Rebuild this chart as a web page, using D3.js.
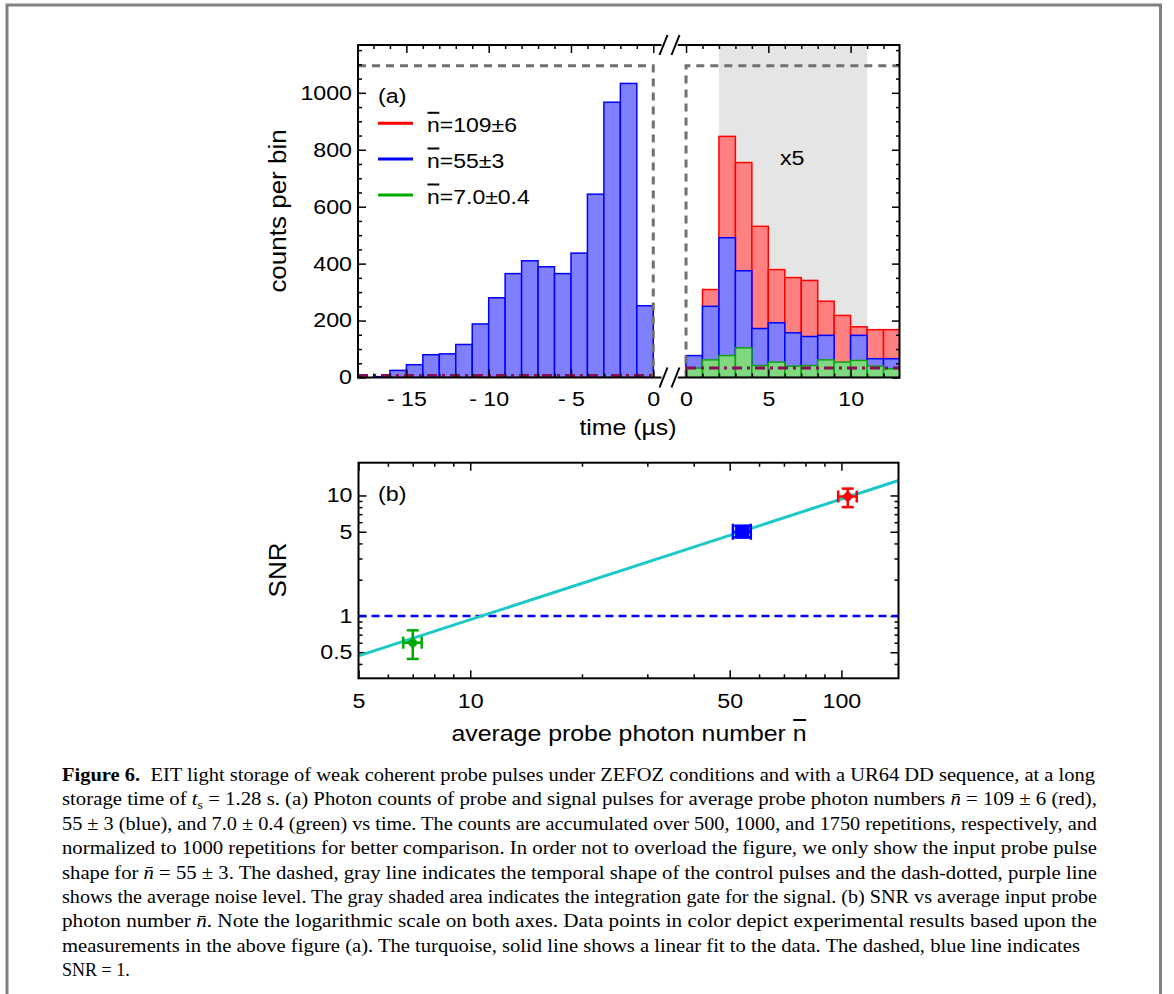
<html>
<head>
<meta charset="utf-8">
<title>Figure 6 - EIT light storage</title>
<script src="https://d3js.org/d3.v7.min.js"></script>
<style>
body { margin: 0; background: #fff; }
svg { display: block; }
.lab { font-family: 'Liberation Sans', Arial, sans-serif; font-size: 20px; fill: #000; }
.big { font-size: 22px; }
.rot { font-size: 23px; }
.tick text { font-family: 'Liberation Sans', Arial, sans-serif; font-size: 20px; fill: #000; }
.tick line { stroke: #000; stroke-width: 1.5; }
.cap { font-family: 'Liberation Serif', 'Times New Roman', serif; font-size: 18px; fill: #000; }
</style>
</head>
<body>
<svg width="1174" height="994"></svg>
<script>

// ---- panel (a) data: counts per 1 us bin, bins given by start time ----
var probeStart = [-17, -16, -15, -14, -13, -12, -11, -10, -9, -8, -7, -6, -5, -4, -3, -2, -1];
var probe55 = [3, 25, 45, 80, 83, 116, 188, 280, 365, 410, 389, 365, 437, 644, 967, 1033, 252];

var signalStart = [0, 1, 2, 3, 4, 5, 6, 7, 8, 9, 10, 11, 12];
var signal109 = [70, 309, 847, 755, 531, 379, 351, 341, 268, 218, 178, 168, 168];
var signal55 = [77, 250, 491, 375, 172, 192, 157, 144, 148, 48, 148, 66, 66];
var signal7 = [33, 62, 77, 104, 42, 54, 40, 42, 62, 54, 60, 40, 31];

var legendLabels = ["=109\u00b16", "=55\u00b13", "=7.0\u00b10.4"];
var legendColors = ["#ff0000", "#0000ff", "#00aa00"];

var controlLevel = 1095;
var noiseLeft = 7, noiseRight = 33;
var gate = [2, 11];

var leftTicks = [-15, -10, -5, 0];
var leftTickLabels = ["- 15", "- 10", "- 5", "0"];
var rightTicks = [0, 5, 10];
var countTicks = [0, 200, 400, 600, 800, 1000];

// ---- panel (b) data ----
var nbar = [104, 54, 7.0];
var nbarErr = [6, 3, 0.4];
var snr = [9.8, 5.0, 0.6];
var snrLo = [8.0, 4.5, 0.44];
var snrHi = [11.4, 5.6, 0.76];
var pointColors = ["#ff0000", "#0000ff", "#00aa00"];
var pointShapes = ["diamond", "square", "diamond"];
var fitN = [5, 142.5];
var fitSNR = [0.466, 13.3];
var snrTicks = [0.5, 1, 5, 10];
var nTicks = [5, 10, 50, 100];

var svg = d3.select("svg");

// the reference font is wider than Liberation Sans: stretch text horizontally
function stretch(sel, k) {
  sel.each(function () {
    var w = this.getComputedTextLength();
    if (w > 0) d3.select(this).attr("textLength", w * k).attr("lengthAdjust", "spacingAndGlyphs");
  });
}

// figure frame
svg.append("rect").attr("x", 7).attr("y", 5).attr("width", 1153.5).attr("height", 1010)
  .attr("fill", "none").attr("stroke", "#808080").attr("stroke-width", 3);

// ================= panel (a) =================
var yA = d3.scaleLinear().domain([0, 1168]).range([377.5, 45]);
var xL = d3.scaleLinear().domain([-17.94, 0.5]).range([358, 661.5]);
var xR = d3.scaleLinear().domain([-0.5, 13]).range([677.8, 900]);

var defs = svg.append("defs");
defs.append("clipPath").attr("id", "clipL").append("rect")
  .attr("x", xL.range()[0]).attr("y", yA(1168)).attr("width", xL.range()[1] - xL.range()[0]).attr("height", yA(0) - yA(1168));
defs.append("clipPath").attr("id", "clipR").append("rect")
  .attr("x", xR.range()[0]).attr("y", yA(1168)).attr("width", xR.range()[1] - xR.range()[0]).attr("height", yA(0) - yA(1168));

var gL = svg.append("g").attr("clip-path", "url(#clipL)");
var gR = svg.append("g").attr("clip-path", "url(#clipR)");

// gate shading
gR.append("rect").attr("x", xR(gate[0])).attr("y", yA(1168))
  .attr("width", xR(gate[1]) - xR(gate[0])).attr("height", yA(0) - yA(1168))
  .attr("fill", "#e5e5e5");

function bars(g, x, starts, vals, fill, stroke) {
  g.selectAll(null).data(vals).enter().append("rect")
    .attr("x", function (d, i) { return x(starts[i]); })
    .attr("y", function (d) { return yA(d); })
    .attr("width", function (d, i) { return x(starts[i] + 1) - x(starts[i]); })
    .attr("height", function (d) { return yA(0) - yA(d); })
    .attr("fill", fill).attr("stroke", stroke).attr("stroke-width", 1.5);
}

bars(gL, xL, probeStart, probe55, "#8080ff", "#0000ff");
bars(gR, xR, signalStart, signal109, "#ff8080", "#ff0000");
bars(gR, xR, signalStart, signal55, "#8080ff", "#0000ff");
bars(gR, xR, signalStart, signal7, "#80d880", "#10a010");

// noise level (dash-dotted purple)
gL.append("line").attr("x1", xL(-17.94)).attr("x2", xL(0)).attr("y1", yA(noiseLeft)).attr("y2", yA(noiseLeft))
  .attr("stroke", "#8b0a5a").attr("stroke-width", 3).attr("stroke-dasharray", "10,5,3,5");
gR.append("line").attr("x1", xR(0)).attr("x2", xR(13)).attr("y1", yA(noiseRight)).attr("y2", yA(noiseRight))
  .attr("stroke", "#8b0a5a").attr("stroke-width", 3).attr("stroke-dasharray", "10,5,3,5");

// control pulses (dashed gray)
var ctl = d3.line().x(function (d) { return d[0]; }).y(function (d) { return d[1]; });
gL.append("path").attr("d", ctl([[xL(-17.94), yA(controlLevel)], [xL(0), yA(controlLevel)], [xL(0), yA(0)]]))
  .attr("fill", "none").attr("stroke", "#707070").attr("stroke-width", 3).attr("stroke-dasharray", "8,6");
gR.append("path").attr("d", ctl([[xR(0), yA(0)], [xR(0), yA(controlLevel)], [xR(13), yA(controlLevel)]]))
  .attr("fill", "none").attr("stroke", "#707070").attr("stroke-width", 3).attr("stroke-dasharray", "8,6");

// axes for panel (a)
function clean(g) { g.select(".domain").remove(); }

svg.append("g").attr("transform", "translate(" + xL.range()[0] + ",0)")
  .call(d3.axisLeft(yA).tickValues(countTicks).tickSizeInner(-8).tickSizeOuter(0).tickPadding(6).tickFormat(d3.format("d")))
  .call(clean);
svg.append("g").attr("transform", "translate(" + xL.range()[0] + ",0)")
  .call(d3.axisLeft(yA).tickValues(d3.range(50, 1168, 50).filter(function (v) { return v % 200 != 0; })).tickSize(-4).tickFormat(""))
  .call(clean);
svg.append("g").attr("transform", "translate(" + xR.range()[1] + ",0)")
  .call(d3.axisRight(yA).tickValues(countTicks).tickSize(-8).tickFormat(""))
  .call(clean);
svg.append("g").attr("transform", "translate(" + xR.range()[1] + ",0)")
  .call(d3.axisRight(yA).tickValues(d3.range(50, 1168, 50).filter(function (v) { return v % 200 != 0; })).tickSize(-4).tickFormat(""))
  .call(clean);

function timeAxes(x, major, labels, minor) {
  svg.append("g").attr("transform", "translate(0," + yA(0) + ")")
    .call(d3.axisBottom(x).tickValues(major).tickSizeInner(-8).tickSizeOuter(0).tickPadding(14)
      .tickFormat(function (d, i) { return labels[i]; }))
    .call(clean);
  svg.append("g").attr("transform", "translate(0," + yA(0) + ")")
    .call(d3.axisBottom(x).tickValues(minor).tickSize(-4).tickFormat("")).call(clean);
  svg.append("g").attr("transform", "translate(0," + yA(1168) + ")")
    .call(d3.axisTop(x).tickValues(major).tickSize(-8).tickFormat("")).call(clean);
  svg.append("g").attr("transform", "translate(0," + yA(1168) + ")")
    .call(d3.axisTop(x).tickValues(minor).tickSize(-4).tickFormat("")).call(clean);
}
timeAxes(xL, leftTicks, leftTickLabels, d3.range(-17, 1, 1).filter(function (v) { return v % 5 != 0; }));
timeAxes(xR, rightTicks, rightTicks.map(String), d3.range(1, 13, 1).filter(function (v) { return v % 5 != 0; }));

// frame of panel (a) with axis break
var fr = svg.append("g").attr("stroke", "#000").attr("stroke-width", 2).attr("fill", "none");
fr.append("path").attr("d", ctl([[xL.range()[1], yA(1168)], [xL.range()[0], yA(1168)], [xL.range()[0], yA(0)], [xL.range()[1], yA(0)]]));
fr.append("path").attr("d", ctl([[xR.range()[0], yA(1168)], [xR.range()[1] - 0.5, yA(1168)], [xR.range()[1] - 0.5, yA(0)], [xR.range()[0], yA(0)]]));
[yA(1168), yA(0)].forEach(function (yy) {
  [663.5, 675.5].forEach(function (cx) {
    fr.append("line").attr("x1", cx - 4).attr("y1", yy + 10).attr("x2", cx + 4).attr("y2", yy - 10);
  });
});

// labels panel (a)
svg.append("text").attr("class", "lab small").attr("x", 378).attr("y", 103).text("(a)");
svg.append("text").attr("class", "lab small").attr("x", 780).attr("y", 165).text("x5");
svg.append("text").attr("class", "lab rot").attr("text-anchor", "middle")
  .attr("transform", "translate(286,211) rotate(-90)").text("counts per bin");
svg.append("text").attr("class", "lab big").attr("text-anchor", "middle")
  .attr("x", 628).attr("y", 435).text("time (\u00b5s)");

// overlined n: draws "n" + rest, bar over the n
function nbarText(x, y, rest) {
  var t = svg.append("text").attr("class", "lab").attr("x", x).attr("y", y);
  t.append("tspan").text("n");
  t.append("tspan").text(rest);
  stretch(t, 1.15);
  var ext = t.node().getExtentOfChar(0);
  svg.append("line").attr("x1", ext.x + 0.5).attr("x2", ext.x + ext.width - 0.5)
    .attr("y1", y - 19).attr("y2", y - 19).attr("stroke", "#000").attr("stroke-width", 2);
  return t;
}

var legY = [123.3, 159, 195];
legendLabels.forEach(function (lab, i) {
  svg.append("line").attr("x1", 378).attr("x2", 413).attr("y1", legY[i]).attr("y2", legY[i])
    .attr("stroke", legendColors[i]).attr("stroke-width", 3);
  nbarText(427, legY[i] + 8.5, lab);
});

// ================= panel (b) =================
var xB = d3.scaleLog().domain([5, 142.5]).range([358.5, 898.5]);
var yB = d3.scaleLog().domain([0.304, 18.7]).range([678.3, 462.7]);

svg.append("g").attr("transform", "translate(0," + yB.range()[0] + ")")
  .call(d3.axisBottom(xB).tickValues(nTicks).tickSizeInner(-8).tickSizeOuter(0).tickPadding(16).tickFormat(d3.format("d")))
  .call(clean);
var nMinor = [6, 7, 8, 9, 20, 30, 40, 60, 70, 80, 90];
svg.append("g").attr("transform", "translate(0," + yB.range()[0] + ")")
  .call(d3.axisBottom(xB).tickValues(nMinor).tickSize(-4).tickFormat("")).call(clean);
svg.append("g").attr("transform", "translate(0," + yB.range()[1] + ")")
  .call(d3.axisTop(xB).tickValues(nTicks).tickSize(-8).tickFormat("")).call(clean);
svg.append("g").attr("transform", "translate(0," + yB.range()[1] + ")")
  .call(d3.axisTop(xB).tickValues(nMinor).tickSize(-4).tickFormat("")).call(clean);

var sMinor = [0.4, 0.6, 0.7, 0.8, 0.9, 2, 3, 4, 6, 7, 8, 9];
svg.append("g").attr("transform", "translate(" + xB.range()[0] + ",0)")
  .call(d3.axisLeft(yB).tickValues(snrTicks).tickSizeInner(-8).tickSizeOuter(0).tickPadding(6).tickFormat(function (d) { return String(d); }))
  .call(clean);
svg.append("g").attr("transform", "translate(" + xB.range()[0] + ",0)")
  .call(d3.axisLeft(yB).tickValues(sMinor).tickSize(-4).tickFormat("")).call(clean);
svg.append("g").attr("transform", "translate(" + xB.range()[1] + ",0)")
  .call(d3.axisRight(yB).tickValues(snrTicks).tickSize(-8).tickFormat("")).call(clean);
svg.append("g").attr("transform", "translate(" + xB.range()[1] + ",0)")
  .call(d3.axisRight(yB).tickValues(sMinor).tickSize(-4).tickFormat("")).call(clean);

// SNR = 1 reference
svg.append("line").attr("x1", xB(5)).attr("x2", xB(142.5)).attr("y1", yB(1)).attr("y2", yB(1))
  .attr("stroke", "#0000ff").attr("stroke-width", 2.5).attr("stroke-dasharray", "8,5");

// linear fit
svg.append("path").attr("d", d3.line().x(function (d) { return xB(d); }).y(function (d, i) { return yB(fitSNR[i]); })(fitN))
  .attr("stroke", "#1cc8c8").attr("stroke-width", 3).attr("fill", "none");

// data points
nbar.forEach(function (n, i) {
  var g = svg.append("g").attr("stroke", pointColors[i]).attr("stroke-width", 2.5).attr("fill", pointColors[i]);
  var cx = xB(n), cy = yB(snr[i]);
  var half = pointShapes[i] == "square" ? 8 : 6;
  g.append("line").attr("x1", xB(n - nbarErr[i])).attr("x2", xB(n + nbarErr[i])).attr("y1", cy).attr("y2", cy);
  g.append("line").attr("x1", cx).attr("x2", cx).attr("y1", yB(snrLo[i])).attr("y2", yB(snrHi[i]));
  [n - nbarErr[i], n + nbarErr[i]].forEach(function (v) {
    g.append("line").attr("x1", xB(v)).attr("x2", xB(v)).attr("y1", cy - half).attr("y2", cy + half);
  });
  [snrLo[i], snrHi[i]].forEach(function (v) {
    g.append("line").attr("x1", cx - half).attr("x2", cx + half).attr("y1", yB(v)).attr("y2", yB(v));
  });
  if (pointShapes[i] == "square") {
    g.append("rect").attr("x", cx - 7).attr("y", cy - 7).attr("width", 14).attr("height", 14).attr("stroke", "none");
  } else {
    g.append("path").attr("d", "M" + cx + "," + (cy - 6) + "L" + (cx + 6) + "," + cy + "L" + cx + "," + (cy + 6) + "L" + (cx - 6) + "," + cy + "Z")
      .attr("stroke", "none");
  }
});

svg.append("rect").attr("x", xB.range()[0]).attr("y", yB.range()[1])
  .attr("width", xB.range()[1] - xB.range()[0]).attr("height", yB.range()[0] - yB.range()[1])
  .attr("fill", "none").attr("stroke", "#000").attr("stroke-width", 2);

svg.append("text").attr("class", "lab small").attr("x", 378).attr("y", 501).text("(b)");
svg.append("text").attr("class", "lab rot").attr("text-anchor", "middle")
  .attr("transform", "translate(286,570) rotate(-90)").text("SNR");
// x label with overlined n at the end
var xlab = svg.append("text").attr("class", "lab big").attr("text-anchor", "middle").attr("x", 629).attr("y", 741)
  .text("average probe photon number n");

// widen the sans-serif text to the reference proportions
stretch(svg.selectAll(".tick text"), 1.16);
stretch(svg.selectAll(".small"), 1.16);
stretch(svg.selectAll(".big"), 1.13);
stretch(svg.selectAll(".rot"), 1.13);

var lastExt = xlab.node().getExtentOfChar(xlab.text().length - 1);
svg.append("line").attr("x1", lastExt.x + 0.5).attr("x2", lastExt.x + lastExt.width - 0.5)
  .attr("y1", 720).attr("y2", 720).attr("stroke", "#000").attr("stroke-width", 2);

// ================= caption =================
var capLines = [
  [["b", "Figure 6."], ["", "  EIT light storage of weak coherent probe pulses under ZEFOZ conditions and with a UR64 DD sequence, at a long"]],
  [["", "storage time of "], ["i", "t"], ["sub", "s"], ["", " = 1.28 s. (a) Photon counts of probe and signal pulses for average probe photon numbers "], ["i", "n\u0304"], ["", " = 109 \u00b1 6 (red),"]],
  [["", "55 \u00b1 3 (blue), and 7.0 \u00b1 0.4 (green) vs time. The counts are accumulated over 500, 1000, and 1750 repetitions, respectively, and"]],
  [["", "normalized to 1000 repetitions for better comparison. In order not to overload the figure, we only show the input probe pulse"]],
  [["", "shape for "], ["i", "n\u0304"], ["", " = 55 \u00b1 3. The dashed, gray line indicates the temporal shape of the control pulses and the dash-dotted, purple line"]],
  [["", "shows the average noise level. The gray shaded area indicates the integration gate for the signal. (b) SNR vs average input probe"]],
  [["", "photon number "], ["i", "n\u0304"], ["", ". Note the logarithmic scale on both axes. Data points in color depict experimental results based upon the"]],
  [["", "measurements in the above figure (a). The turquoise, solid line shows a linear fit to the data. The dashed, blue line indicates"]],
  [["", "SNR = 1."]]
];
var capEnds = [1095, 1097, 1097, 1097, 1097, 1097, 1097, 1080, null];
var capX = 62;
capLines.forEach(function (parts, i) {
  var t = svg.append("text").attr("class", "cap").attr("x", capX).attr("y", 781 + i * 24.4).attr("xml:space", "preserve");
  parts.forEach(function (p, j) {
    var s = t.append("tspan").text(p[1]);
    if (p[0] == "b") s.attr("font-weight", "bold");
    if (p[0] == "i") s.attr("font-style", "italic");
    if (p[0] == "sub") s.attr("font-size", "12px").attr("dy", 4);
    if (j > 0 && parts[j - 1][0] == "sub") s.attr("dy", -4);
  });
  if (capEnds[i]) t.attr("textLength", capEnds[i] - capX).attr("lengthAdjust", "spacingAndGlyphs");
});

</script>
</body>
</html>
